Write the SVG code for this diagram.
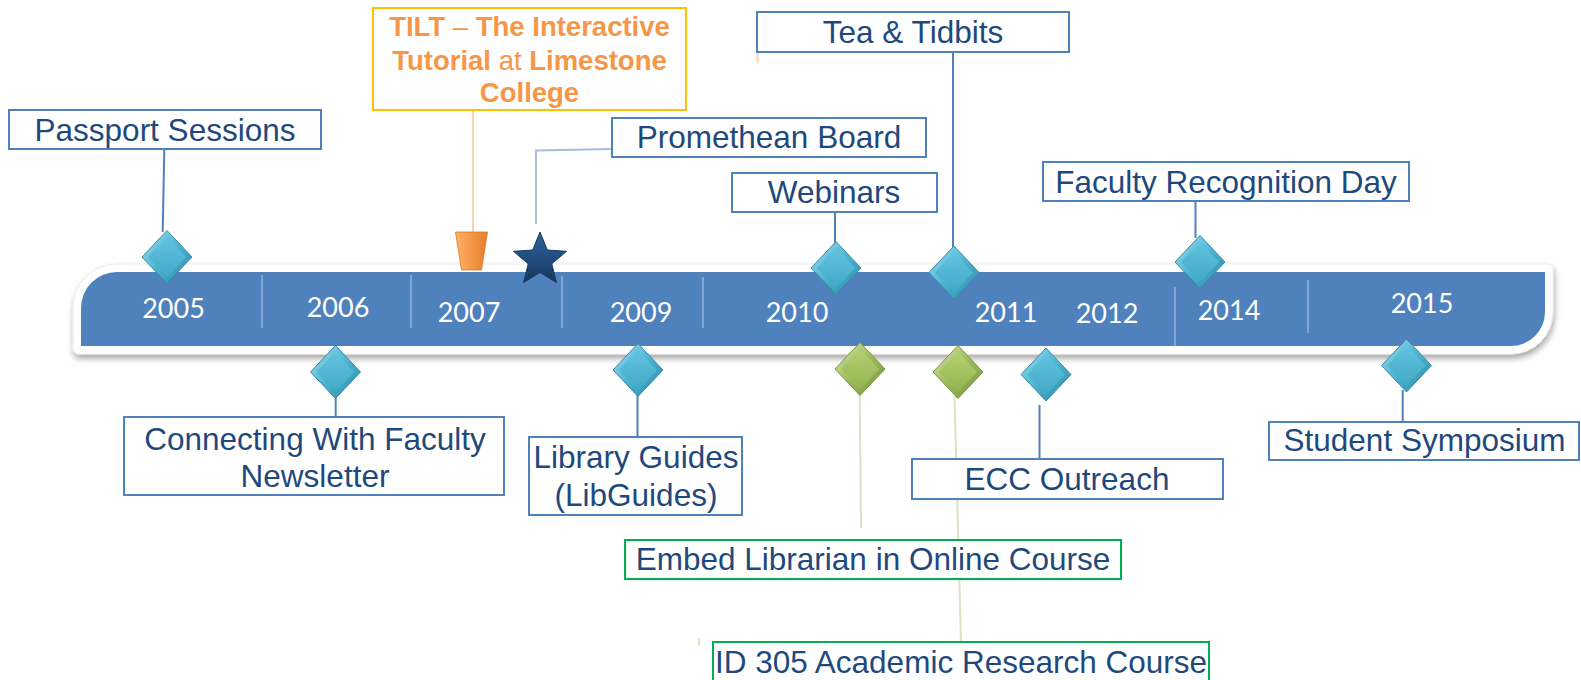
<svg xmlns="http://www.w3.org/2000/svg" xmlns:xlink="http://www.w3.org/1999/xlink" width="1581" height="680" viewBox="0 0 1581 680">
<defs>
<style>
.box{fill:#fff;stroke:#4F81BD;stroke-width:2}
.gbox{fill:#fff;stroke:#00B050;stroke-width:2}
.obox{fill:#fff;stroke:#FFC000;stroke-width:2}
.lbl{font-family:"Liberation Sans",Arial,sans-serif;font-size:31.5px;fill:#1F497D;text-anchor:middle}
.tilt{font-family:"Liberation Sans",Arial,sans-serif;font-size:27.5px;fill:#F79646;text-anchor:middle;font-weight:bold}
.tilt .r{font-weight:normal}
.yr{font-family:Lato,"Open Sans",sans-serif;font-size:27px;fill:#fff;text-anchor:middle}
.div{stroke:#95B3D7;stroke-width:1.5}
.cb{fill:none;stroke:#4F81BD;stroke-width:2}
.cl{fill:none;stroke:#A7BDDB;stroke-width:2}
.co{fill:none;stroke:#FBD4B4;stroke-width:2}
.cg{fill:none;stroke:#D7E4BD;stroke-width:2}
</style>
<linearGradient id="gcO" x1="0" y1="0" x2="1" y2="1">
<stop offset="0" stop-color="#9fe0f2"/><stop offset="0.5" stop-color="#4bb4d1"/><stop offset="1" stop-color="#2b89a5"/>
</linearGradient>
<linearGradient id="gcI" x1="0" y1="0" x2="0" y2="1">
<stop offset="0" stop-color="#62c3de"/><stop offset="1" stop-color="#41a9c7"/>
</linearGradient>
<linearGradient id="ggO" x1="0" y1="0" x2="1" y2="1">
<stop offset="0" stop-color="#d8e8b0"/><stop offset="0.5" stop-color="#9bbb59"/><stop offset="1" stop-color="#76923c"/>
</linearGradient>
<linearGradient id="ggI" x1="0" y1="0" x2="0" y2="1">
<stop offset="0" stop-color="#b3cf74"/><stop offset="1" stop-color="#93b44f"/>
</linearGradient>
<linearGradient id="gOr" x1="0" y1="0" x2="1" y2="0">
<stop offset="0" stop-color="#fbb36c"/><stop offset="0.5" stop-color="#f79646"/><stop offset="1" stop-color="#e07f2c"/>
</linearGradient>
<linearGradient id="gSt" x1="0" y1="0" x2="0" y2="1">
<stop offset="0" stop-color="#2f62a0"/><stop offset="1" stop-color="#17375e"/>
</linearGradient>
<filter id="sh" x="-5%" y="-30%" width="110%" height="170%">
<feDropShadow dx="1" dy="4" stdDeviation="3" flood-color="#000" flood-opacity="0.35"/>
</filter>
<g id="diaC">
<path d="M0,-26.5 L25,0 L0,26.5 L-25,0 Z" fill="url(#gcO)" stroke="#3c8aa2" stroke-width="1"/>
<path d="M0,-20 L19,0 L0,20 L-19,0 Z" fill="url(#gcI)"/>
</g>
<g id="diaG">
<path d="M0,-26.5 L25,0 L0,26.5 L-25,0 Z" fill="url(#ggO)" stroke="#7a9444" stroke-width="1"/>
<path d="M0,-20 L19,0 L0,20 L-19,0 Z" fill="url(#ggI)"/>
</g>
</defs>

<rect width="1581" height="680" fill="#fff"/>

<g id="timeline-bar">
<path d="M73,308 A44,44 0 0 1 117,264 L1547,264 Q1553,264 1553,270 L1553,312 A42,42 0 0 1 1511,354 L79,354 Q73,354 73,348 Z" fill="#fff" stroke="#ececec" stroke-width="1" filter="url(#sh)"/>
<path d="M81,308 A36,36 0 0 1 117,272 L1545,272 L1545,312 A34,34 0 0 1 1511,346 L81,346 Z" fill="#4F81BD"/>
<line class="div" x1="262" y1="275" x2="262" y2="328"/>
<line class="div" x1="411" y1="275" x2="411" y2="328"/>
<line class="div" x1="562" y1="276" x2="562" y2="328"/>
<line class="div" x1="703" y1="277" x2="703" y2="328"/>
<line class="div" x1="1175" y1="287" x2="1175" y2="346"/>
<line class="div" x1="1308" y1="280" x2="1308" y2="333"/>
<text class="yr" x="173.5" y="317.5">2005</text>
<text class="yr" x="338" y="316.5">2006</text>
<text class="yr" x="469" y="321.5">2007</text>
<text class="yr" x="641" y="321.5">2009</text>
<text class="yr" x="797" y="321.5">2010</text>
<text class="yr" x="1006" y="321.5">2011</text>
<text class="yr" x="1107" y="323">2012</text>
<text class="yr" x="1229" y="320">2014</text>
<text class="yr" x="1422" y="313">2015</text>
</g>

<g id="connectors">
<path class="cb" d="M164.3,149 L162.7,232"/>
<path class="co" d="M473,110 L473,234"/>
<path class="cl" d="M611,149 L536,150.5 L536,224"/>
<path class="co" d="M757.5,52 L757.5,63"/>
<path class="cb" d="M835,212 L835,244"/>
<path class="cb" d="M953,52 L953,250"/>
<path class="cb" d="M1195.5,201 L1195.5,238"/>
<path class="cb" d="M335.7,395 L335.7,418"/>
<path class="cb" d="M637.5,390 L637.5,437"/>
<path class="cg" d="M859.7,394 L861,528"/>
<path class="cg" d="M954.5,396 L961,642"/>
<path class="cb" d="M1039.5,405 L1039.5,459"/>
<path class="cb" d="M1402.7,390 L1402.7,422"/>
<path class="cg" d="M699,638 L699,645"/>
</g>

<g id="n-passport">
<rect class="box" x="9" y="110" width="312" height="39"/>
<text class="lbl" x="165" y="141">Passport Sessions</text>
<use href="#diaC" x="167" y="257"/>
</g>

<g id="n-tilt">
<rect class="obox" x="373" y="8" width="313" height="102"/>
<text class="tilt" x="529.5" y="36">TILT<tspan class="r"> – </tspan>The Interactive</text>
<text class="tilt" x="529.5" y="70">Tutorial<tspan class="r"> at </tspan>Limestone</text>
<text class="tilt" x="529.5" y="102">College</text>
<path d="M455.5,232 L487.5,232 L481.5,270 L461.5,270 Z" fill="url(#gOr)" stroke="#d9792a" stroke-width="0.8"/>
</g>

<g id="n-promethean">
<rect class="box" x="612" y="118" width="314" height="39"/>
<text class="lbl" x="769" y="148">Promethean Board</text>
<path d="M540,232 L547.3,250 L566.6,251.3 L551.8,263.8 L556.5,282.6 L540,272.4 L523.5,282.6 L528.2,263.8 L513.4,251.3 L532.7,250 Z" fill="url(#gSt)" stroke="#1a3a63" stroke-width="1"/>
</g>

<g id="n-webinars">
<rect class="box" x="732" y="173" width="205" height="39"/>
<text class="lbl" x="834" y="203">Webinars</text>
<use href="#diaC" x="836" y="268"/>
</g>

<g id="n-tea">
<rect class="box" x="757" y="12" width="312" height="40"/>
<text class="lbl" x="913" y="43">Tea &amp; Tidbits</text>
<use href="#diaC" x="954" y="272.5"/>
</g>

<g id="n-faculty-day">
<rect class="box" x="1043" y="162" width="366" height="39"/>
<text class="lbl" x="1226" y="193">Faculty Recognition Day</text>
<use href="#diaC" x="1200" y="262"/>
</g>

<g id="n-connecting">
<rect class="box" x="124" y="417" width="380" height="78"/>
<text class="lbl" x="315" y="450">Connecting With Faculty</text>
<text class="lbl" x="315" y="487">Newsletter</text>
<use href="#diaC" x="335.5" y="372"/>
</g>

<g id="n-libguides">
<rect class="box" x="529" y="437" width="213" height="78"/>
<text class="lbl" x="636" y="468">Library Guides</text>
<text class="lbl" x="636" y="506">(LibGuides)</text>
<use href="#diaC" x="638" y="370"/>
</g>

<g id="n-embed">
<rect class="gbox" x="625" y="540" width="496" height="39"/>
<text class="lbl" x="873" y="570">Embed Librarian in Online Course</text>
<use href="#diaG" x="860" y="369"/>
</g>

<g id="n-id305">
<rect class="gbox" x="713" y="642" width="496" height="40"/>
<text class="lbl" x="961" y="673">ID 305 Academic Research Course</text>
<use href="#diaG" x="958" y="372"/>
</g>

<g id="n-ecc">
<rect class="box" x="912" y="459" width="311" height="40"/>
<text class="lbl" x="1067" y="490">ECC Outreach</text>
<use href="#diaC" x="1046" y="374.5"/>
</g>

<g id="n-student">
<rect class="box" x="1269" y="422" width="310" height="38"/>
<text class="lbl" x="1424.5" y="451">Student Symposium</text>
<use href="#diaC" x="1406.5" y="365.5"/>
</g>
</svg>
